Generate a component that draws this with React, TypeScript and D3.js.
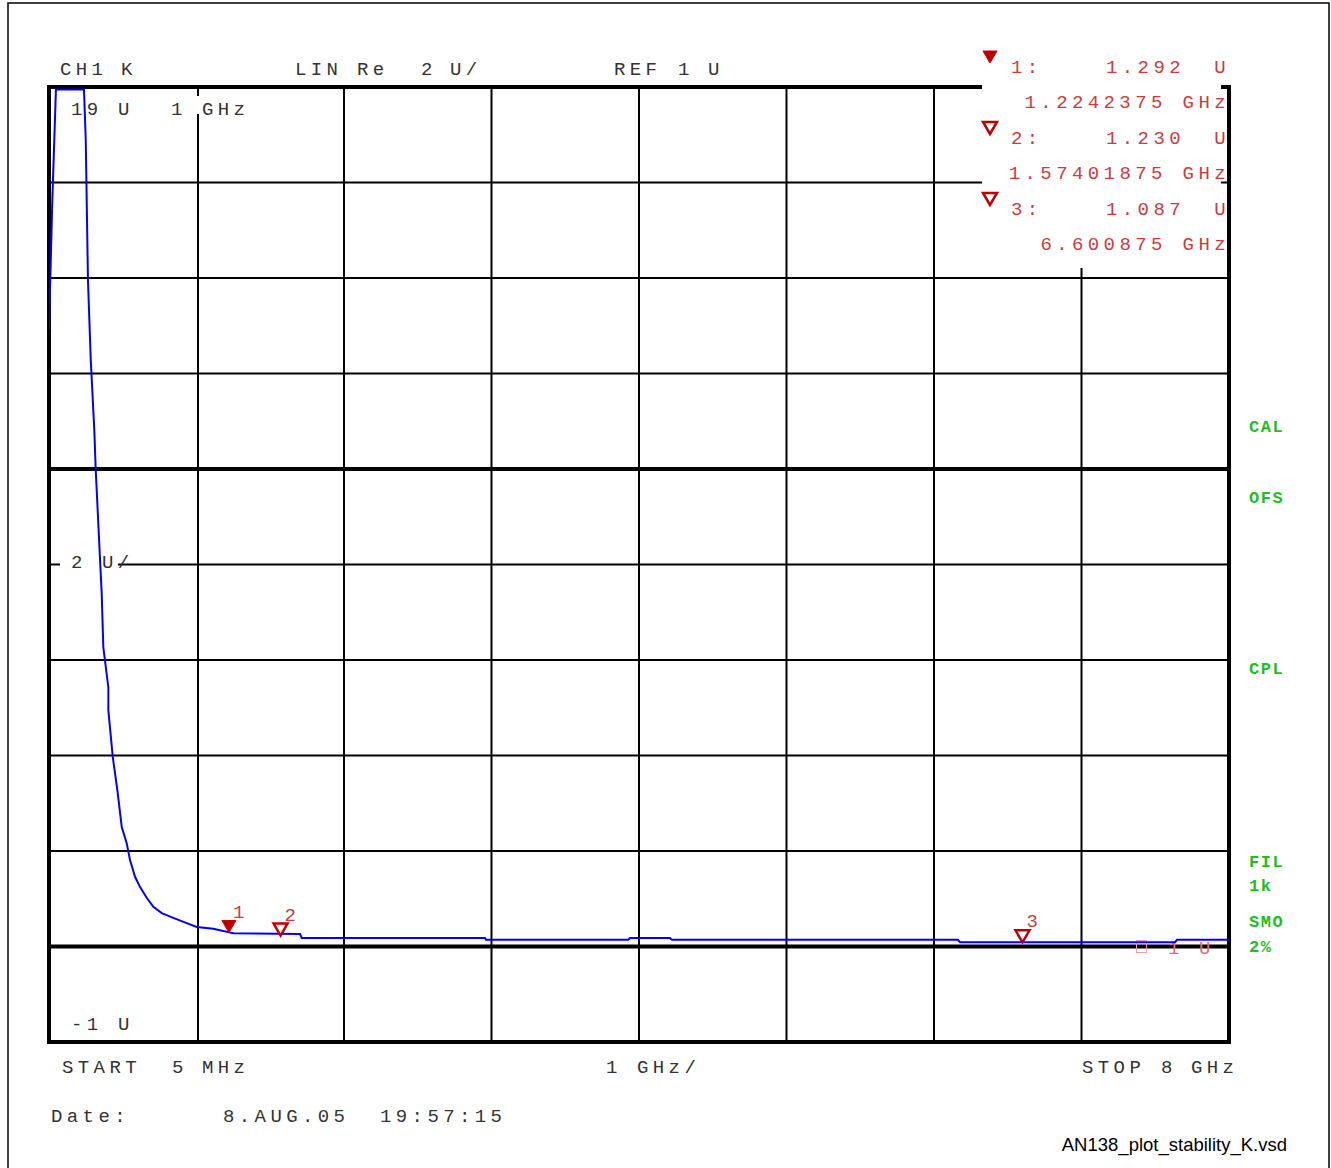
import * as d3 from 'd3'

// trace readings (frequency in GHz, value in U)
const traceFreq = [0.005, 0.027, 0.052, 0.242, 0.254, 0.269, 0.288, 0.312, 0.321, 0.351, 0.362, 0.373, 0.407, 0.407, 0.437, 0.468, 0.498, 0.531, 0.554, 0.588, 0.621, 0.667, 0.712, 0.769, 0.847, 0.938, 1.006, 1.118, 1.254, 1.706, 1.717, 2.959, 2.966, 3.928, 3.942, 4.212, 4.226, 6.163, 6.177, 7.634, 7.648, 8.0]
const traceVal = [13.91, 16.57, 18.95, 18.95, 17.89, 14.96, 13.28, 11.82, 11.02, 9.09, 8.4, 7.27, 6.43, 5.95, 4.97, 4.28, 3.5, 3.17, 2.81, 2.46, 2.25, 2.02, 1.83, 1.7, 1.6, 1.49, 1.41, 1.37, 1.28, 1.26, 1.18, 1.18, 1.14, 1.14, 1.18, 1.18, 1.14, 1.14, 1.09, 1.09, 1.14, 1.14]

const markerIds = ['1', '2', '3']
const markerFreq = [1.2242375, 1.57401875, 6.600875]
const markerVal = [1.292, 1.23, 1.087]
const markerFreqText = ['1.2242375 GHz', '1.57401875 GHz', '6.600875 GHz']
const markerValText = ['1.292', '1.230', '1.087']

const sideLabels = ['CAL', 'OFS', 'CPL', 'FIL', '1k', 'SMO', '2%']
const sideLabelY = [432, 503, 674, 867, 891, 927, 952]

const xDivs = d3.range(0, 9)
const yDivs = d3.range(0, 11)

const W = 1331
const H = 1168
const left = 49
const right = 1229
const top = 87
const bottom = 1042

const mono = 'Liberation Mono, DejaVu Sans Mono, monospace'
const grey = '#333'
const red = '#d03a3a'
const darkRed = '#c00000'
const green = '#1fbf1f'

export default function App() {
  const x = d3.scaleLinear().domain([0.005, 8]).range([left, right])
  const y = d3.scaleLinear().domain([-1, 19]).range([bottom, top])
  const gx = d3.scaleLinear().domain([0, 8]).range([left, right])
  const gy = d3.scaleLinear().domain([0, 10]).range([bottom, top])

  const line = d3.line<number>()
    .x(i => x(traceFreq[i]))
    .y(i => y(traceVal[i]))
  const tracePath = line(d3.range(traceFreq.length)) || ''

  const txt = (s: string, tx: number, ty: number, extra: any = {}) => (
    <text x={tx} y={ty} fontFamily={mono} fontSize={19} letterSpacing={4.4} fill={grey} {...extra}>{s}</text>
  )

  const tri = (cx: number, tipY: number, filled: boolean, key: string) => {
    const p = d3.path()
    p.moveTo(cx - 7, tipY - 12)
    p.lineTo(cx + 7, tipY - 12)
    p.lineTo(cx, tipY)
    p.closePath()
    return (
      <path key={key} d={p.toString()} fill={filled ? darkRed : 'white'} stroke={darkRed}
        strokeWidth={filled ? 1 : 2.5} strokeLinejoin="miter" />
    )
  }

  return (
    <svg width={W} height={H} style={{ position: 'absolute', left: 0, top: 0, background: 'white' }}>
      {/* outer frame */}
      <path d={`M8,${H} V3 H1329 V${H}`} fill="none" stroke="#000" strokeWidth={1.5} />

      {/* grid */}
      {xDivs.slice(1, 8).map(i => (
        <line key={'vx' + i} x1={gx(i) + (i === 1 ? 1.5 : 0)} x2={gx(i) + (i === 1 ? 1.5 : 0)}
          y1={i === 7 ? 268 : top} y2={bottom} stroke="#000" strokeWidth={2} />
      ))}
      {yDivs.slice(1, 10).map(i => (
        <line key={'hy' + i} x1={left} x2={i === 9 ? 982 : right} y1={gy(i)} y2={gy(i)} stroke="#000"
          strokeWidth={i === 6 || i === 1 ? 4 : 2} />
      ))}
      {/* small tick at the right next to readout box */}
      <line x1={1221} x2={right} y1={gy(9)} y2={gy(9)} stroke="#000" strokeWidth={2} />

      {/* frame of graticule */}
      <line x1={left} x2={982} y1={top} y2={top} stroke="#000" strokeWidth={4} />
      <line x1={1221} x2={right + 2} y1={top} y2={top} stroke="#000" strokeWidth={4} />
      <line x1={left} x2={left} y1={top - 2} y2={bottom + 2} stroke="#000" strokeWidth={4} />
      <line x1={right} x2={right} y1={top - 2} y2={bottom + 2} stroke="#000" strokeWidth={4} />
      <line x1={left - 2} x2={right + 2} y1={bottom} y2={bottom} stroke="#000" strokeWidth={4} />

      {/* label masks */}
      <rect x={60} y={552} width={58} height={22} fill="white" />
      <rect x={190} y={96} width={14} height={18} fill="white" />

      {/* header */}
      {txt('CH1', 60, 75)}
      {txt('K', 121, 75)}
      {txt('LIN', 295, 75)}
      {txt('Re', 357, 75)}
      {txt('2', 421, 75)}
      {txt('U/', 450, 75)}
      {txt('REF', 614, 75)}
      {txt('1', 678, 75)}
      {txt('U', 708, 75)}

      {txt('19', 71, 115)}
      {txt('U', 118, 115)}
      {txt('1', 171, 115)}
      {txt('GHz', 202, 115)}
      {txt('2', 71, 568)}
      {txt('U/', 102, 568)}
      {txt('-1', 71, 1030)}
      {txt('U', 118, 1030)}

      {/* reference level marker */}
      <rect x={1136.5} y={940.5} width={10} height={12} fill="none" stroke="#f0a0a0" strokeWidth={1} />
      {txt('1', 1168, 954, { fill: '#e07070' })}
      {txt('U', 1199, 954, { fill: '#e07070' })}

      {/* trace */}
      <defs>
        <clipPath id="plotClip">
          <rect x={left} y={top} width={right - left} height={bottom - top} />
        </clipPath>
      </defs>
      <path d={tracePath} fill="none" stroke="#0000ff" strokeWidth={2} clipPath="url(#plotClip)" />

      {/* markers on trace */}
      {markerIds.map((m, i) => (
        <g key={'m' + m}>
          {tri(x(markerFreq[i]), y(markerVal[i]), i === 0, 'mt' + m)}
          <text x={x(markerFreq[i]) + 4} y={y(markerVal[i]) - 15} fontFamily={mono} fontSize={19} fill={red}>{m}</text>
        </g>
      ))}

      {/* marker readout */}
      {markerIds.map((m, i) => {
        const y0 = 73 + i * 71
        return (
          <g key={'r' + m}>
            {tri(990, 63 + i * 71, i === 0, 'rt' + m)}
            {txt(m + ':', 1011, y0, { fill: red })}
            {txt(markerValText[i], 1185, y0, { fill: red, textAnchor: 'end' })}
            {txt('U', 1230, y0, { fill: red, textAnchor: 'end' })}
            {txt(markerFreqText[i], 1230, y0 + 35, { fill: red, textAnchor: 'end' })}
          </g>
        )
      })}

      {/* side labels */}
      {sideLabels.map((s, i) => (
        <text key={s} x={1249} y={sideLabelY[i]} fontFamily={mono} fontWeight="bold" fontSize={17}
          letterSpacing={1.5} fill={green}>{s}</text>
      ))}

      {/* bottom annotation */}
      {txt('START', 62, 1073)}
      {txt('5', 172, 1073)}
      {txt('MHz', 202, 1073)}
      {txt('1', 606, 1073)}
      {txt('GHz/', 637, 1073)}
      {txt('STOP', 1082, 1073)}
      {txt('8', 1161, 1073)}
      {txt('GHz', 1191, 1073)}
      {txt('Date:', 51, 1122)}
      {txt('8.AUG.05', 223, 1122)}
      {txt('19:57:15', 380, 1122)}

      <text x={1287} y={1151} textAnchor="end" fontFamily="Liberation Sans, Arial, sans-serif" fontSize={18.5} fill="#000">
        AN138_plot_stability_K.vsd
      </text>
    </svg>
  )
}
